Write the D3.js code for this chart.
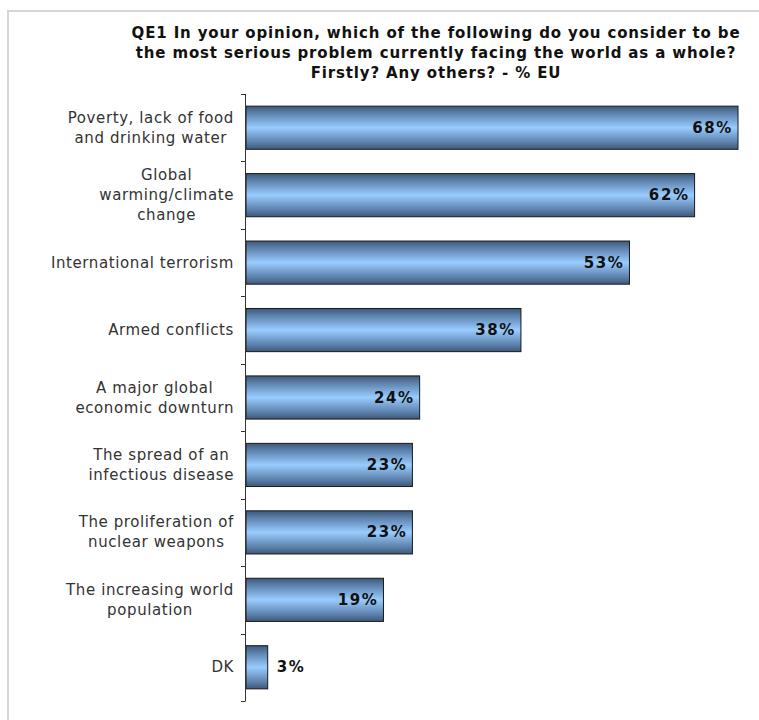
<!DOCTYPE html>
<html><head><meta charset="utf-8">
<script src="https://cdn.jsdelivr.net/npm/d3@7"></script>
<style>body{margin:0;background:#fff;}svg{display:block;font-family:"DejaVu Sans",Verdana,sans-serif;}</style>
</head><body><svg id="c" width="759" height="720"></svg>
<script>
const titleLines = ["QE1 In your opinion, which of the following do you consider to be","the most serious problem currently facing the world as a whole?","Firstly? Any others? - % EU"];
const categories = [
  ["Poverty, lack of food","and drinking water"],
  ["Global","warming/climate","change"],
  ["International terrorism"],
  ["Armed conflicts"],
  ["A major global","economic downturn"],
  ["The spread of an","infectious disease"],
  ["The proliferation of","nuclear weapons"],
  ["The increasing world","population"],
  ["DK"]
];
const values = [68,62,53,38,24,23,23,19,3];
const valueLabels = ["68%","62%","53%","38%","24%","23%","23%","19%","3%"];

const svg = d3.select("#c");
// frame
svg.append("path").attr("d","M8,720 L8,11 L759,11").attr("fill","none").attr("stroke","#d6d6d6").attr("stroke-width",2);

// title
const t = svg.append("text").attr("text-anchor","middle").attr("font-weight","bold").attr("font-size",15)
  .attr("letter-spacing","0.85px").attr("fill","#111");
titleLines.forEach((l,i)=>t.append("tspan").attr("x",436).attr("y",38+i*20).text(l));

const idx = d3.range(categories.length);
const y = d3.scaleBand().domain(idx).range([94,701]).paddingInner(0.36).paddingOuter(0.18);
const x = d3.scaleLinear().domain([0,68]).range([246,738]);

const defs = svg.append("defs");
const g = defs.append("linearGradient").attr("id","bg").attr("x1",0).attr("y1",0).attr("x2",0).attr("y2",1);
[[0,"#3d5878"],[0.15,"#5a7ea8"],[0.5,"#99ccff"],[0.85,"#5a7ea8"],[1,"#3d5878"]].forEach(s=>g.append("stop").attr("offset",s[0]).attr("stop-color",s[1]));

// bars
svg.append("g").selectAll("rect").data(idx).join("rect")
  .attr("x",x(0)).attr("y",d=>y(d)).attr("width",d=>x(values[d])-x(0)).attr("height",y.bandwidth())
  .attr("fill","url(#bg)").attr("stroke","#1a1a1a").attr("stroke-width",1);

// axis
const bandEdges = idx.map(d=>y(d)-y.step()*y.paddingInner()/2).concat([701]);
bandEdges[0]=94;
const ax = svg.append("g").attr("stroke","#333").attr("stroke-width",1);
ax.append("line").attr("x1",245.5).attr("x2",245.5).attr("y1",94).attr("y2",701);
ax.selectAll("line.t").data(bandEdges).join("line").attr("class","t")
  .attr("x1",241).attr("x2",245.5).attr("y1",d=>Math.round(d)+0.5).attr("y2",d=>Math.round(d)+0.5);

// value labels
svg.append("g").selectAll("text").data(idx).join("text")
  .attr("font-weight","bold").attr("font-size",15).attr("letter-spacing","1.6px").attr("fill","#111")
  .attr("x",d=> values[d]>10 ? x(values[d])-5 : x(values[d])+9)
  .attr("text-anchor",d=> values[d]>10 ? "end":"start")
  .attr("y",d=>y(d)+y.bandwidth()/2+5).text(d=>valueLabels[d]);

// category labels
const lg = svg.append("g").attr("font-size",15).attr("letter-spacing","0.6px").attr("fill","#333");
idx.forEach(d=>{
  const lines = categories[d];
  const txt = lg.append("text").attr("text-anchor","middle");
  const ts = lines.map((l,i)=>txt.append("tspan").text(l));
  const maxW = d3.max(ts.map(s=>s.node().getComputedTextLength()));
  const cx = 234 - maxW/2;
  const cy = y(d)+y.bandwidth()/2;
  const lh = 20;
  ts.forEach((s,i)=>s.attr("x",cx).attr("y",cy+5+(i-(lines.length-1)/2)*lh));
});
</script></body></html>
